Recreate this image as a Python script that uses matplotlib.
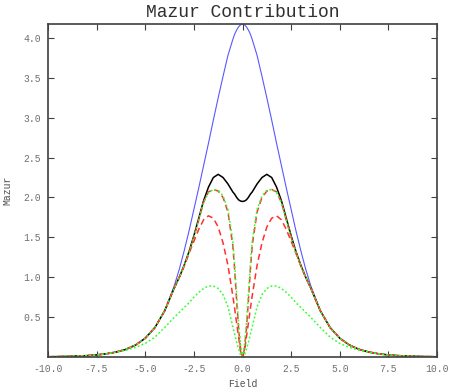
import numpy as np
import matplotlib
matplotlib.use("Agg")
import matplotlib.pyplot as plt

# field values (right half, curves are symmetric about 0)
field_half = [0, 0.1, 0.2, 0.3, 0.4, 0.5, 0.75, 1.0, 1.25, 1.5, 1.75, 2.0, 2.25, 2.5,
              2.75, 3.0, 3.25, 3.5, 4.0, 4.5, 5.0, 5.5, 6.0, 6.5, 7.0, 7.5, 8.0, 9.0, 10.0]

tail = [0.58, 0.37, 0.235, 0.15, 0.095, 0.062, 0.04, 0.026, 0.017, 0.007, 0.003]

total_half = [4.175, 4.165, 4.14, 4.1, 4.05, 3.98, 3.78, 3.52, 3.25, 2.97, 2.68, 2.4, 2.12, 1.85,
              1.58, 1.33, 1.1, 0.9] + tail
mazur_half = [1.95, 1.955, 1.97, 2.0, 2.04, 2.07, 2.17, 2.25, 2.29, 2.25, 2.13, 1.96, 1.74, 1.52,
              1.32, 1.15, 1.0, 0.87] + tail
red1_half = [0, 0.1, 0.35, 0.7, 1.08, 1.4, 1.82, 2.0, 2.08, 2.1, 2.07, 1.94, 1.72, 1.5,
             1.31, 1.14, 1.0, 0.87] + tail
green1_half = [0, 0.15, 0.42, 0.78, 1.15, 1.46, 1.85, 2.02, 2.09, 2.1, 2.06, 1.94, 1.72, 1.5,
               1.31, 1.14, 1.0, 0.87] + tail
red2_half = [0, 0.07, 0.25, 0.42, 0.6, 0.77, 1.15, 1.43, 1.63, 1.74, 1.77, 1.72, 1.6, 1.45,
             1.3, 1.14, 1.0, 0.87] + tail
green2_half = [0, 0.025, 0.1, 0.18, 0.28, 0.38, 0.63, 0.78, 0.86, 0.89, 0.89, 0.86, 0.81, 0.75,
               0.68, 0.62, 0.56, 0.5, 0.37, 0.25, 0.17, 0.12, 0.085, 0.058, 0.038, 0.025,
               0.016, 0.007, 0.003]


def mirror(v, neg=False):
    v = np.asarray(v, dtype=float)
    left = -v[::-1] if neg else v[::-1]
    return np.concatenate([left, v[1:]])


field = mirror(field_half, neg=True)

font = "Liberation Mono"
plt.rcParams["font.family"] = [font, "DejaVu Sans Mono"]

fig = plt.figure(figsize=(4.58, 3.92), dpi=100)
ax = fig.add_axes([0.1048, 0.0893, 0.8494, 0.8495])

ax.plot(field, mirror(total_half), color="#5858ff", lw=0.8)
ax.plot(field, mirror(mazur_half), color="black", lw=1.1)
ax.plot(field, mirror(red1_half), color="#ff3030", lw=1.1, ls=(0, (4, 2.5)))
ax.plot(field, mirror(red2_half), color="#ff3030", lw=1.1, ls=(0, (4, 2.5)))
ax.plot(field, mirror(green1_half), color="#30ff30", lw=1.1, ls=(0, (1.2, 1.5)))
ax.plot(field, mirror(green2_half), color="#30ff30", lw=1.1, ls=(0, (1.2, 1.5)))

ax.set_xlim(-10, 10)
ax.set_ylim(0, 4.175)
ax.set_xticks(np.arange(-10, 10.1, 2.5))
ax.set_yticks(np.arange(0.5, 4.01, 0.5))
ax.xaxis.set_major_formatter(matplotlib.ticker.FormatStrFormatter("%.1f"))
ax.yaxis.set_major_formatter(matplotlib.ticker.FormatStrFormatter("%.1f"))
ax.tick_params(direction="in", length=4, width=0.8, top=True, right=True,
               labelsize=7, labelcolor="#707070", color="#404040", pad=5)
for s in ax.spines.values():
    s.set_color("#404040")
    s.set_linewidth(1.2)

ax.set_title("Mazur Contribution", fontsize=13, color="#303030", pad=5)
ax.set_xlabel("Field", fontsize=7, color="#505050", labelpad=4)
ax.set_ylabel("Mazur", fontsize=7, color="#505050", labelpad=8)

fig.savefig("out.png", dpi=100)
